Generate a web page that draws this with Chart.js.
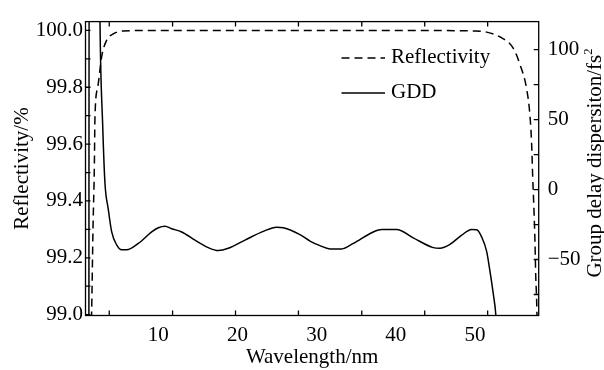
<!DOCTYPE html>
<html>
<head>
<meta charset="utf-8">
<script src="https://cdn.jsdelivr.net/npm/chart.js@4.4.1/dist/chart.umd.min.js"></script>
<style>
  html, body { margin: 0; padding: 0; background: #fff; }
  canvas { display: block; }
</style>
</head>
<body>
<canvas id="c" width="604" height="370"></canvas>
<script>
// ---------- data ----------
const wavelengthR = [1.40, 1.58, 1.75, 1.91, 2.0, 2.35, 2.85, 3.48, 4.31, 5.57, 10, 20, 30, 40, 50, 51.48, 53.16, 54.84, 55.68, 56.53, 56.94, 57.16, 57.29, 57.45, 57.58, 57.67, 57.79, 57.9];
const reflectivity = [98.80, 99.015, 99.307, 99.507, 99.70, 99.80, 99.909, 99.966, 99.988, 99.998, 100.0, 100.0, 100.0, 100.0, 99.998, 99.994, 99.977, 99.937, 99.880, 99.794, 99.702, 99.599, 99.485, 99.370, 99.256, 99.141, 99.05, 98.90];

const wavelengthG = [1.22, 1.27, 2.45, 2.63, 2.97, 3.26, 3.68, 4.11, 4.74, 5.37, 6.0, 7.47, 9.16, 10.0, 10.84, 11.69, 12.95, 14.63, 16.31, 17.57, 18.84, 20.95, 23.26, 24.95, 25.78, 27.89, 29.16, 30.42, 31.68, 33.16, 34.63, 37.15, 38.21, 40.11, 42.2, 44.73, 45.58, 46.84, 48.32, 49.58, 50.21, 50.84, 51.48, 51.89, 52.31, 52.65, 52.9];
const gdd = [-200, 250, 250, 120, 46.2, 4.5, -14.1, -30.3, -39.6, -43.1, -43.1, -38.5, -30.3, -27.3, -26.2, -28.0, -30.3, -36.1, -41.5, -43.6, -42.0, -36.1, -29.9, -26.9, -27.3, -32.2, -36.8, -40.1, -42.4, -42.4, -38.5, -30.3, -28.5, -28.5, -34.5, -41.5, -42.0, -39.2, -32.6, -28.5, -28.7, -33.8, -44.3, -58.2, -74.4, -90.7, -120];

const xTickLabels = [10, 20, 30, 40, 50];
const xTickMarks = [3.8, 11.8, 19.75, 27.7, 35.7, 43.65, 51.6];
const leftTickLabels = [99.0, 99.2, 99.4, 99.6, 99.8, 100.0];
const leftTickMarks = [99.0, 99.1, 99.2, 99.3, 99.4, 99.5, 99.6, 99.7, 99.8, 99.9, 100.0];
const rightTickLabels = [-50, 0, 50, 100];
const rightTickMarks = [-75, -50, -25, 0, 25, 50, 75, 100];

const xTitle = 'Wavelength/nm';
const leftTitle = 'Reflectivity/%';
const rightTitle = 'Group delay dispersiton/fs';
const rightTitleSup = '2';

// ---------- style ----------
const FAMILY = '"Liberation Serif", "Times New Roman", serif';
const FSIZE = 21;
const TICK = 5;

const framePlugin = {
  id: 'frame',
  afterDraw(chart) {
    const { ctx, chartArea: a, scales } = chart;
    ctx.save();
    ctx.strokeStyle = '#000';
    ctx.lineWidth = 1.3;
    ctx.strokeRect(a.left, a.top, a.right - a.left, a.bottom - a.top);
    ctx.beginPath();
    xTickMarks.forEach(v => {
      const p = scales.x.getPixelForValue(v);
      ctx.moveTo(p, a.bottom); ctx.lineTo(p, a.bottom - TICK);
      ctx.moveTo(p, a.top); ctx.lineTo(p, a.top + TICK);
    });
    leftTickMarks.forEach(v => {
      const p = scales.y.getPixelForValue(v);
      ctx.moveTo(a.left, p); ctx.lineTo(a.left + TICK, p);
    });
    rightTickMarks.forEach(v => {
      const p = scales.y2.getPixelForValue(v);
      ctx.moveTo(a.right, p); ctx.lineTo(a.right - TICK, p);
    });
    ctx.stroke();

    // legend
    const ds = chart.data.datasets;
    const rows = [58, 93];
    ctx.font = FSIZE + 'px ' + FAMILY;
    ctx.fillStyle = '#000';
    ctx.textBaseline = 'middle';
    ctx.textAlign = 'left';
    ds.forEach((d, i) => {
      ctx.save();
      ctx.lineWidth = 1.5;
      ctx.setLineDash(d.borderDash || []);
      ctx.beginPath();
      ctx.moveTo(341.5, rows[i]);
      ctx.lineTo(385, rows[i]);
      ctx.stroke();
      ctx.restore();
      ctx.fillText(d.label, 391, rows[i] - 1);
    });

    // right axis title (reads bottom-to-top)
    ctx.save();
    ctx.translate(595, 163);
    ctx.rotate(-Math.PI / 2);
    ctx.font = FSIZE + 'px ' + FAMILY;
    const w1 = ctx.measureText(rightTitle).width;
    ctx.font = (FSIZE * 0.6) + 'px ' + FAMILY;
    const w2 = ctx.measureText(rightTitleSup).width;
    const x0 = -(w1 + w2) / 2;
    ctx.font = FSIZE + 'px ' + FAMILY;
    ctx.textBaseline = 'middle';
    ctx.fillText(rightTitle, x0, 0);
    ctx.font = (FSIZE * 0.6) + 'px ' + FAMILY;
    ctx.fillText(rightTitleSup, x0 + w1, -6);
    ctx.restore();
    ctx.restore();
  }
};

const font = { family: FAMILY, size: FSIZE };

new Chart(document.getElementById('c').getContext('2d'), {
  type: 'line',
  data: {
    datasets: [
      {
        label: 'Reflectivity',
        data: wavelengthR.map((x, i) => ({ x, y: reflectivity[i] })),
        yAxisID: 'y',
        borderColor: '#000',
        borderWidth: 1.5,
        borderDash: [8, 5],
        pointRadius: 0,
        fill: false,
        cubicInterpolationMode: 'monotone'
      },
      {
        label: 'GDD',
        data: wavelengthG.map((x, i) => ({ x, y: gdd[i] })),
        yAxisID: 'y2',
        borderColor: '#000',
        borderWidth: 1.5,
        pointRadius: 0,
        fill: false,
        cubicInterpolationMode: 'monotone'
      }
    ]
  },
  options: {
    responsive: false,
    animation: false,
    devicePixelRatio: 1,
    layout: { padding: { top: 14, left: 0, right: 0, bottom: 0 } },
    plugins: { legend: { display: false }, tooltip: { enabled: false } },
    scales: {
      x: {
        type: 'linear',
        min: 0.8,
        max: 58.05,
        afterBuildTicks: s => { s.ticks = xTickLabels.map(v => ({ value: v })); },
        afterFit: s => { s.height = 54.5; },
        grid: { display: false, drawTicks: false },
        border: { display: false },
        ticks: { color: '#000', font, padding: 7, maxRotation: 0, autoSkip: false },
        title: { display: true, text: xTitle, color: '#000', font, padding: { top: 0, bottom: 0 } }
      },
      y: {
        position: 'left',
        min: 98.997,
        max: 100.031,
        afterBuildTicks: s => { s.ticks = leftTickLabels.map(v => ({ value: v })); },
        afterFit: s => { s.width = 85.5; },
        grid: { display: false, drawTicks: false },
        border: { display: false },
        ticks: { color: '#000', font, padding: 2.5, autoSkip: false, callback: v => Number(v).toFixed(1) },
        title: { display: true, text: leftTitle, color: '#000', font, padding: { top: 10, bottom: 0 } }
      },
      y2: {
        position: 'right',
        min: -90,
        max: 120,
        afterBuildTicks: s => { s.ticks = rightTickLabels.map(v => ({ value: v })); },
        afterFit: s => { s.width = 65.3; },
        grid: { display: false, drawTicks: false },
        border: { display: false },
        ticks: { color: '#000', font, padding: 9, autoSkip: false, callback: v => String(v).replace('-', '\u2212') }
      }
    }
  },
  plugins: [framePlugin]
});
</script>
</body>
</html>
